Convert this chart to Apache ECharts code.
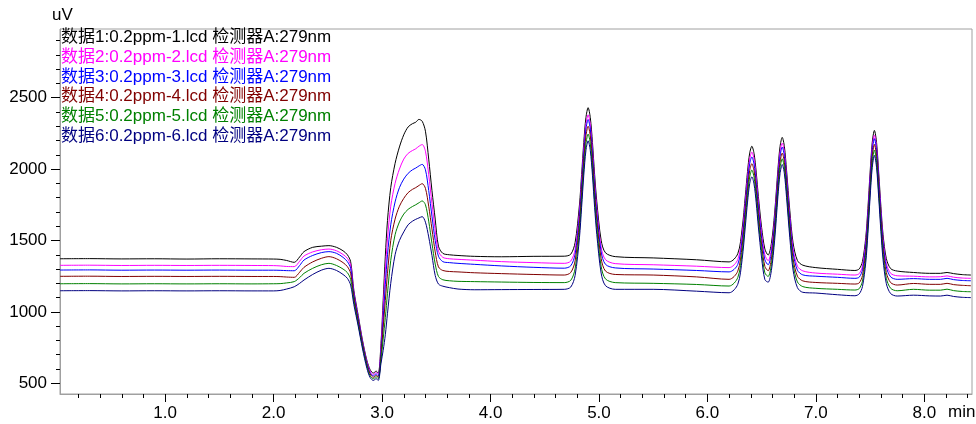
<!DOCTYPE html>
<html>
<head>
<meta charset="utf-8">
<script src="https://cdn.jsdelivr.net/npm/echarts@6/dist/echarts.min.js"></script>
<style>
html,body{margin:0;padding:0;background:#fff;}
#chart{width:976px;height:424px;}
</style>
</head>
<body>
<div id="chart"></div>
<script>
// ---- data ----
const times = [
  0.03, 0.3, 0.6, 0.9, 1.2, 1.5, 1.8, 2.0,
  2.06, 2.12, 2.19, 2.24, 2.28, 2.36, 2.44, 2.51, 2.58, 2.64, 2.68, 2.71,
  2.74, 2.78, 2.82, 2.86, 2.89, 2.92, 2.945, 2.965, 2.99, 3.01, 3.03, 3.05, 3.08, 3.12, 3.16, 3.2, 3.24, 3.28, 3.31, 3.34, 3.37, 3.40, 3.43, 3.46, 3.49, 3.52, 3.56, 3.62, 3.7,
  3.85, 4.1, 4.4, 4.68,
  4.74, 4.78, 4.82, 4.84, 4.86, 4.88, 4.9, 4.92, 4.94, 4.96, 4.98, 5.02, 5.06,
  5.15, 5.5, 5.9, 6.2,
  6.28, 6.32, 6.35, 6.37, 6.39, 6.41, 6.43, 6.45, 6.47, 6.5, 6.53, 6.56, 6.59, 6.62, 6.65, 6.67, 6.69, 6.71, 6.73, 6.76, 6.79, 6.83, 6.88,
  7.0, 7.2, 7.36,
  7.40, 7.43, 7.46, 7.48, 7.50, 7.52, 7.54, 7.56, 7.58, 7.60, 7.62, 7.65, 7.69, 7.75,
  7.9, 8.05, 8.15, 8.21, 8.27, 8.35, 8.43
];

const data1 = [
  1372, 1373, 1371, 1372, 1370, 1372, 1371, 1370,
  1368, 1360, 1347, 1385, 1422, 1452, 1460, 1464, 1452, 1428, 1400, 1352,
  1150, 975, 800, 660, 595, 572, 585, 572, 780, 1080, 1390, 1640, 1870, 2040, 2155, 2240, 2295, 2318, 2328, 2348, 2335, 2265, 2070, 1850, 1650, 1460, 1410, 1400, 1395,
  1389, 1386, 1389, 1390,
  1404, 1485, 1749, 1962, 2187, 2361, 2430, 2361, 2187, 1962, 1773, 1502, 1414,
  1387, 1378, 1365, 1350,
  1407, 1580, 1815, 1983, 2112, 2160, 2110, 1979, 1809, 1591, 1440, 1398, 1480, 1692, 1995, 2159, 2222, 2157, 1991, 1709, 1483, 1360, 1327,
  1310, 1298, 1290,
  1301, 1353, 1519, 1724, 1973, 2186, 2271, 2185, 1971, 1738, 1540, 1373, 1303, 1286,
  1276, 1270, 1270, 1276, 1268, 1261, 1258
];
const data2 = [
  1326, 1327, 1325, 1326, 1325, 1326, 1325, 1324,
  1322, 1318, 1317, 1355, 1391, 1420, 1435, 1440, 1428, 1402, 1375, 1328,
  1135, 960, 790, 650, 585, 562, 575, 562, 750, 1020, 1290, 1510, 1740, 1900, 2000, 2070, 2110, 2130, 2142, 2160, 2172, 2125, 1960, 1760, 1570, 1425, 1382, 1372, 1368,
  1362, 1352, 1345, 1340,
  1356, 1437, 1701, 1914, 2139, 2313, 2380, 2313, 2139, 1914, 1725, 1454, 1366,
  1338, 1330, 1320, 1310,
  1366, 1539, 1774, 1942, 2071, 2119, 2069, 1938, 1768, 1550, 1399, 1358, 1440, 1652, 1955, 2119, 2182, 2117, 1951, 1669, 1443, 1320, 1287,
  1272, 1264, 1258,
  1268, 1320, 1486, 1691, 1940, 2153, 2238, 2152, 1938, 1705, 1507, 1340, 1270, 1253,
  1250, 1245, 1246, 1252, 1243, 1237, 1235
];
const data3 = [
  1293, 1294, 1292, 1293, 1292, 1293, 1292, 1292,
  1291, 1289, 1288, 1325, 1363, 1395, 1415, 1422, 1410, 1382, 1352, 1305,
  1120, 950, 780, 640, 575, 552, 565, 552, 720, 950, 1190, 1400, 1610, 1770, 1870, 1930, 1970, 1995, 2007, 2022, 2033, 1995, 1850, 1670, 1500, 1390, 1352, 1345, 1340,
  1333, 1322, 1312, 1306,
  1323, 1404, 1668, 1881, 2106, 2280, 2347, 2280, 2106, 1881, 1692, 1421, 1333,
  1308, 1300, 1290, 1280,
  1332, 1505, 1740, 1908, 2037, 2085, 2035, 1904, 1734, 1516, 1365, 1330, 1412, 1624, 1927, 2091, 2154, 2089, 1923, 1641, 1415, 1292, 1259,
  1250, 1242, 1235,
  1243, 1295, 1461, 1666, 1915, 2128, 2213, 2127, 1913, 1680, 1482, 1315, 1245, 1228,
  1233, 1228, 1228, 1235, 1226, 1220, 1218
];
const data4 = [
  1249, 1250, 1248, 1249, 1248, 1249, 1248, 1248,
  1247, 1244, 1242, 1278, 1312, 1350, 1375, 1387, 1372, 1345, 1317, 1270,
  1100, 935, 770, 630, 565, 542, 555, 542, 690, 890, 1080, 1270, 1500, 1650, 1740, 1795, 1835, 1858, 1870, 1885, 1898, 1865, 1740, 1580, 1420, 1315, 1290, 1283, 1280,
  1274, 1268, 1262, 1258,
  1276, 1357, 1621, 1834, 2059, 2233, 2300, 2233, 2059, 1834, 1645, 1374, 1286,
  1262, 1258, 1245, 1228,
  1285, 1458, 1693, 1861, 1990, 2038, 1988, 1857, 1687, 1469, 1318, 1288, 1370, 1582, 1885, 2049, 2112, 2047, 1881, 1599, 1373, 1250, 1217,
  1206, 1200, 1195,
  1203, 1255, 1421, 1626, 1875, 2088, 2173, 2087, 1873, 1640, 1442, 1275, 1205, 1188,
  1199, 1193, 1193, 1200, 1191, 1186, 1183
];
const data5 = [
  1197, 1198, 1196, 1197, 1196, 1197, 1196, 1197,
  1198, 1203, 1212, 1240, 1270, 1305, 1330, 1340, 1325, 1300, 1275, 1228,
  1075, 915, 755, 620, 552, 532, 545, 532, 665, 810, 960, 1130, 1360, 1540, 1630, 1685, 1718, 1738, 1750, 1764, 1777, 1750, 1635, 1480, 1335, 1248, 1225, 1218, 1214,
  1212, 1209, 1206, 1205,
  1221, 1302, 1566, 1779, 2004, 2178, 2245, 2178, 2004, 1779, 1590, 1319, 1231,
  1205, 1200, 1192, 1181,
  1240, 1413, 1648, 1816, 1945, 1993, 1943, 1812, 1642, 1424, 1273, 1248, 1330, 1542, 1845, 2009, 2072, 2007, 1841, 1559, 1333, 1210, 1177,
  1165, 1158, 1153,
  1163, 1215, 1381, 1586, 1835, 2048, 2133, 2047, 1833, 1600, 1402, 1235, 1165, 1148,
  1158, 1152, 1152, 1159, 1149, 1143, 1141
];
const data6 = [
  1148, 1149, 1147, 1148, 1147, 1148, 1147, 1147,
  1150, 1160, 1176, 1200, 1223, 1262, 1292, 1305, 1290, 1262, 1235, 1188,
  1050, 900, 740, 605, 540, 520, 532, 520, 640, 730, 840, 990, 1200, 1400, 1500, 1560, 1610, 1635, 1648, 1658, 1667, 1628, 1525, 1395, 1255, 1195, 1180, 1170, 1160,
  1155, 1156, 1157, 1158,
  1174, 1255, 1519, 1732, 1957, 2131, 2198, 2131, 1957, 1732, 1543, 1272, 1184,
  1158, 1158, 1145, 1134,
  1193, 1366, 1601, 1769, 1898, 1946, 1896, 1765, 1595, 1377, 1226, 1208, 1290, 1502, 1805, 1969, 2032, 1967, 1801, 1519, 1293, 1170, 1137,
  1132, 1120, 1113,
  1126, 1178, 1344, 1549, 1798, 2011, 2096, 2010, 1796, 1563, 1365, 1198, 1128, 1111,
  1117, 1112, 1111, 1117, 1108, 1102, 1100
];

const seriesNames = [
  '数据1:0.2ppm-1.lcd 检测器A:279nm',
  '数据2:0.2ppm-2.lcd 检测器A:279nm',
  '数据3:0.2ppm-3.lcd 检测器A:279nm',
  '数据4:0.2ppm-4.lcd 检测器A:279nm',
  '数据5:0.2ppm-5.lcd 检测器A:279nm',
  '数据6:0.2ppm-6.lcd 检测器A:279nm'
];
const seriesColors = ['#000000', '#ff00ff', '#0000ff', '#800000', '#008000', '#000080'];

const xMajorTicks = [1, 2, 3, 4, 5, 6, 7, 8];
const xMinorTicks = [0.2, 0.4, 0.6, 0.8, 1.2, 1.4, 1.6, 1.8, 2.2, 2.4, 2.6, 2.8, 3.2, 3.4, 3.6, 3.8,
  4.2, 4.4, 4.6, 4.8, 5.2, 5.4, 5.6, 5.8, 6.2, 6.4, 6.6, 6.8, 7.2, 7.4, 7.6, 7.8, 8.2, 8.4];
const yMajorTicks = [500, 1000, 1500, 2000, 2500];
const yMinorTicks = [600, 700, 800, 900, 1100, 1200, 1300, 1400, 1600, 1700, 1800, 1900,
  2100, 2200, 2300, 2400, 2600, 2700, 2800, 2900];
const xRange = [0.03, 8.44];
const yRange = [425, 2981];
const yUnit = 'uV';
const xUnit = 'min';

// ---- chart ----
const allData = [data1, data2, data3, data4, data5, data6];
allData.forEach((d, i) => { if (d.length !== times.length) console.error('length mismatch', i, d.length, times.length); });

const FONT = '"Liberation Sans", Arial, "Noto Sans CJK SC", sans-serif';
const chart = echarts.init(document.getElementById('chart'), null, {renderer: 'canvas'});

const axisGray = '#a0a0a0';
const graphics = seriesNames.map((name, i) => ({
  type: 'text',
  left: 61,
  top: 29 + i * 19.7,
  z: 100,
  style: {text: name, fill: seriesColors[i], fontSize: 17, fontFamily: FONT}
}));
graphics.push({type: 'text', left: 52, top: 7, style: {text: yUnit, fill: '#000', fontSize: 17, fontFamily: FONT}});
graphics.push({type: 'text', left: 948, top: 404, style: {text: xUnit, fill: '#000', fontSize: 17, fontFamily: FONT}});

const option = {
  animation: false,
  backgroundColor: '#fff',
  grid: {left: 60, right: 4, top: 29, bottom: 30, show: true, borderColor: axisGray, borderWidth: 1, backgroundColor: 'transparent'},
  xAxis: [
    {
      type: 'value', min: xRange[0], max: xRange[1],
      axisLine: {show: true, lineStyle: {color: axisGray, width: 1}},
      axisTick: {show: true, length: 8, customValues: xMajorTicks, lineStyle: {color: '#000'}},
      axisLabel: {show: true, customValues: xMajorTicks, formatter: v => Number(v).toFixed(1), fontSize: 17, fontFamily: FONT, color: '#000', margin: 11},
      splitLine: {show: false}
    },
    {
      type: 'value', min: xRange[0], max: xRange[1], position: 'bottom',
      axisLine: {show: false},
      axisTick: {show: true, length: 4, customValues: xMinorTicks, lineStyle: {color: '#000'}},
      axisLabel: {show: false},
      splitLine: {show: false}
    }
  ],
  yAxis: [
    {
      type: 'value', min: yRange[0], max: yRange[1],
      axisLine: {show: true, lineStyle: {color: axisGray, width: 1}},
      axisTick: {show: true, length: 9, customValues: yMajorTicks, lineStyle: {color: '#000'}},
      axisLabel: {show: true, customValues: yMajorTicks, formatter: v => String(Math.round(v)), fontSize: 17, fontFamily: FONT, color: '#000', margin: 13},
      splitLine: {show: false}
    },
    {
      type: 'value', min: yRange[0], max: yRange[1], position: 'left',
      axisLine: {show: false},
      axisTick: {show: true, length: 4, customValues: yMinorTicks, lineStyle: {color: '#000'}},
      axisLabel: {show: false},
      splitLine: {show: false}
    }
  ],
  series: allData.map((d, i) => ({
    name: seriesNames[i],
    type: 'line',
    xAxisIndex: 0,
    yAxisIndex: 0,
    data: times.map((t, k) => [t, d[k]]),
    showSymbol: false,
    symbol: 'none',
    smooth: 0.3,
    lineStyle: {color: seriesColors[i], width: 1},
    itemStyle: {color: seriesColors[i]},
    z: 2
  })),
  graphic: graphics
};
chart.setOption(option);
</script>
</body>
</html>
